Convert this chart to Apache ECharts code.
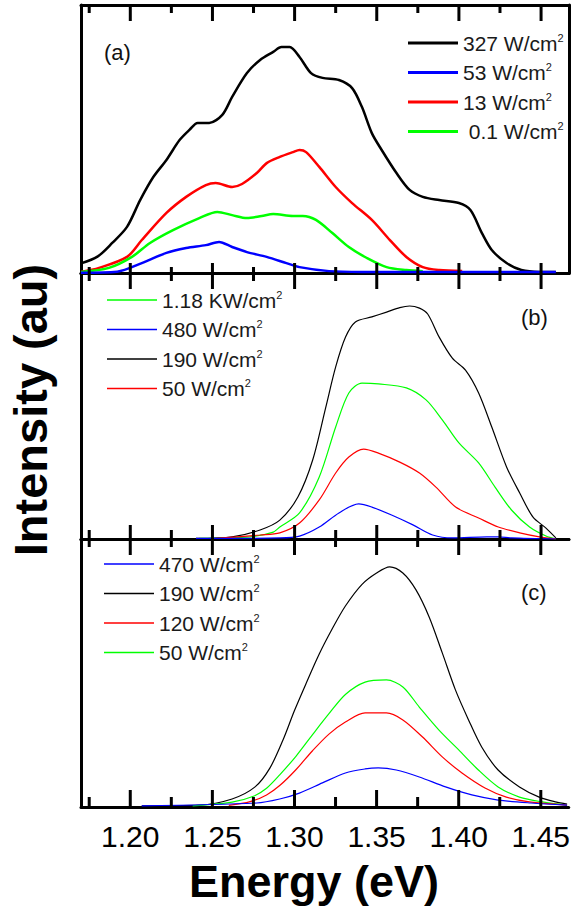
<!DOCTYPE html>
<html><head><meta charset="utf-8">
<script src="https://cdn.jsdelivr.net/npm/echarts@6/dist/echarts.min.js"></script>
<style>html,body{margin:0;padding:0;background:#fff}#c{width:573px;height:908px}</style>
</head><body><div id="c"></div>
<script>
// ---- axis ticks ----
const tickValues = [1.20, 1.25, 1.30, 1.35, 1.40, 1.45];
const tickLabels = ['1.20', '1.25', '1.30', '1.35', '1.40', '1.45'];
const minorTickValues = [1.175, 1.225, 1.275, 1.325, 1.375, 1.425];
const energyRange = [1.17, 1.467];

// ---- panel (a): [energy eV, intensity au] ----
const a327 = [[1.170,0.036],[1.180,0.061],[1.189,0.112],[1.198,0.172],[1.206,0.272],[1.214,0.358],[1.222,0.422],[1.230,0.496],[1.236,0.534],[1.241,0.560],[1.248,0.560],[1.256,0.590],[1.262,0.657],[1.271,0.746],[1.279,0.795],[1.287,0.825],[1.292,0.843],[1.297,0.843],[1.303,0.806],[1.310,0.746],[1.317,0.728],[1.327,0.720],[1.335,0.690],[1.341,0.619],[1.347,0.522],[1.353,0.459],[1.362,0.373],[1.370,0.310],[1.378,0.284],[1.388,0.272],[1.400,0.261],[1.407,0.235],[1.414,0.149],[1.420,0.086],[1.429,0.037],[1.438,0.011],[1.449,0.004],[1.459,0.004]];
const a13 = [[1.170,0.004],[1.181,0.019],[1.198,0.060],[1.207,0.123],[1.222,0.224],[1.234,0.284],[1.246,0.328],[1.252,0.336],[1.262,0.321],[1.268,0.332],[1.277,0.373],[1.283,0.410],[1.291,0.433],[1.299,0.451],[1.303,0.459],[1.307,0.451],[1.315,0.396],[1.325,0.321],[1.335,0.261],[1.347,0.198],[1.358,0.123],[1.368,0.060],[1.378,0.022],[1.388,0.011],[1.402,0.007]];
const a01 = [[1.170,0.004],[1.187,0.019],[1.201,0.060],[1.212,0.112],[1.226,0.160],[1.242,0.205],[1.253,0.228],[1.262,0.216],[1.271,0.205],[1.280,0.213],[1.287,0.220],[1.299,0.213],[1.305,0.213],[1.313,0.198],[1.323,0.149],[1.333,0.097],[1.344,0.056],[1.356,0.022],[1.368,0.011],[1.378,0.007]];
const a53 = [[1.170,0.001],[1.192,0.005],[1.207,0.037],[1.222,0.075],[1.234,0.093],[1.246,0.104],[1.254,0.116],[1.262,0.097],[1.271,0.078],[1.283,0.060],[1.295,0.037],[1.303,0.022],[1.321,0.007],[1.341,0.004],[1.459,0.004]];

// ---- panel (b) ----
const b190 = [[1.240,0.002],[1.262,0.008],[1.279,0.034],[1.291,0.071],[1.302,0.158],[1.311,0.297],[1.319,0.496],[1.325,0.647],[1.331,0.759],[1.337,0.816],[1.347,0.835],[1.356,0.853],[1.364,0.870],[1.370,0.876],[1.376,0.868],[1.381,0.846],[1.388,0.759],[1.396,0.680],[1.404,0.635],[1.412,0.549],[1.420,0.421],[1.429,0.271],[1.437,0.173],[1.445,0.083],[1.453,0.041],[1.459,0.004]];
const b1180 = [[1.242,0.002],[1.273,0.008],[1.287,0.026],[1.291,0.045],[1.303,0.098],[1.315,0.233],[1.325,0.421],[1.333,0.549],[1.341,0.586],[1.351,0.583],[1.368,0.568],[1.380,0.523],[1.390,0.447],[1.400,0.361],[1.412,0.286],[1.422,0.195],[1.432,0.109],[1.443,0.045],[1.453,0.011],[1.459,0.000]];
const b50 = [[1.252,0.002],[1.279,0.015],[1.291,0.023],[1.303,0.060],[1.315,0.147],[1.325,0.248],[1.333,0.308],[1.342,0.338],[1.351,0.323],[1.364,0.289],[1.376,0.248],[1.386,0.195],[1.398,0.120],[1.412,0.079],[1.424,0.045],[1.437,0.023],[1.449,0.008],[1.459,0.000]];
const b480 = [[1.240,0.002],[1.291,0.004],[1.303,0.011],[1.315,0.045],[1.327,0.098],[1.339,0.132],[1.347,0.120],[1.359,0.090],[1.372,0.053],[1.384,0.015],[1.396,0.004],[1.417,0.008],[1.424,0.008],[1.432,0.004],[1.459,0.000]];

// ---- panel (c) ----
const c190 = [[1.207,0.004],[1.242,0.007],[1.262,0.030],[1.276,0.075],[1.285,0.145],[1.293,0.250],[1.300,0.360],[1.307,0.460],[1.315,0.570],[1.323,0.665],[1.331,0.750],[1.341,0.830],[1.350,0.873],[1.358,0.896],[1.366,0.873],[1.374,0.810],[1.382,0.709],[1.390,0.575],[1.398,0.437],[1.406,0.325],[1.414,0.224],[1.424,0.138],[1.437,0.075],[1.449,0.037],[1.459,0.019],[1.466,0.011]];
const c50 = [[1.238,0.004],[1.262,0.018],[1.275,0.040],[1.283,0.070],[1.291,0.120],[1.301,0.190],[1.311,0.270],[1.321,0.348],[1.331,0.420],[1.343,0.466],[1.356,0.474],[1.366,0.448],[1.376,0.373],[1.388,0.287],[1.400,0.213],[1.412,0.138],[1.424,0.075],[1.437,0.037],[1.451,0.019],[1.466,0.007]];
const c120 = [[1.260,0.006],[1.273,0.020],[1.283,0.045],[1.291,0.080],[1.301,0.140],[1.311,0.210],[1.321,0.272],[1.331,0.317],[1.343,0.351],[1.356,0.351],[1.366,0.325],[1.378,0.261],[1.390,0.187],[1.402,0.127],[1.416,0.071],[1.429,0.037],[1.443,0.019],[1.466,0.007]];
const c470 = [[1.207,0.004],[1.277,0.015],[1.291,0.030],[1.303,0.052],[1.317,0.090],[1.331,0.127],[1.343,0.142],[1.351,0.146],[1.362,0.138],[1.376,0.112],[1.392,0.075],[1.408,0.045],[1.424,0.026],[1.444,0.015],[1.466,0.007]];

// ---- legend labels ----
const legendA = [['a327','327 W/cm'],['a53','53 W/cm'],['a13','13 W/cm'],['a01',' 0.1 W/cm']];
const legendB = [['b1180','1.18 KW/cm'],['b480','480 W/cm'],['b190','190 W/cm'],['b50','50 W/cm']];
const legendC = [['c470','470 W/cm'],['c190','190 W/cm'],['c120','120 W/cm'],['c50','50 W/cm']];
const panelLabels = ['(a)', '(b)', '(c)'];

const labelMap = {};
[legendA, legendB, legendC].forEach(l => l.forEach(([k, t]) => labelMap[k] = t));

const FONT = 'Liberation Sans, Arial, sans-serif';
const grids = [
  {left: 81, right: 4, top: 5, height: 268},
  {left: 81, right: 4, top: 273, height: 266},
  {left: 81, right: 4, top: 539, height: 268}
];
// tick lengths [major, minor] per grid
const tickLen = [
  {bottom: [10, 6], top: [16, 8]},
  {bottom: [14, 9], top: [16, 8]},
  {bottom: [17, 10], top: [16, 8]}
];

const xAxes = [];
grids.forEach((g, gi) => {
  ['bottom', 'top'].forEach(pos => {
    xAxes.push({
      type: 'value', gridIndex: gi, position: pos, min: energyRange[0], max: energyRange[1],
      axisLine: {show: true, onZero: false, lineStyle: {color: '#000', width: 3}},
      axisTick: {show: false},
      axisLabel: (gi === 2 && pos === 'bottom') ? {
        show: true, customValues: tickValues, margin: 14, fontSize: 30, fontFamily: FONT, color: '#000',
        formatter: v => tickLabels[tickValues.findIndex(t => Math.abs(t - v) < 1e-6)]
      } : {show: false},
      splitLine: {show: false}
    });
  });
});
const yAxes = grids.map((g, gi) => ({
  type: 'value', gridIndex: gi, min: 0, max: 1, position: 'left',
  axisLine: {show: true, onZero: false, lineStyle: {color: '#000', width: 3}},
  axisTick: {show: false}, axisLabel: {show: false}, splitLine: {show: false}
}));
yAxes.push({
  type: 'value', gridIndex: 0, min: 0, max: 1, position: 'right',
  axisLine: {show: true, onZero: false, lineStyle: {color: '#000', width: 3}},
  axisTick: {show: false}, axisLabel: {show: false}, splitLine: {show: false}
});

function line(name, data, gi, color, width) {
  return {
    name, type: 'line', data, xAxisIndex: gi * 2, yAxisIndex: gi,
    symbol: 'none', showSymbol: false, smooth: 0.3,
    lineStyle: {color, width}, itemStyle: {color}, z: 3
  };
}
// tick marks drawn through the axis scale (value -> pixel via api.coord)
function tickSeries(gi) {
  const data = tickValues.map(v => [v, 1]).concat(minorTickValues.map(v => [v, 0]));
  return {
    type: 'custom', xAxisIndex: gi * 2, yAxisIndex: gi, data, silent: true, z: 5, clip: false,
    encode: {x: 0},
    renderItem: (params, api) => {
      const v = api.value(0), major = api.value(1) === 1;
      const pb = api.coord([v, 0]), pt = api.coord([v, 1]);
      const lb = tickLen[gi].bottom[major ? 0 : 1], lt = tickLen[gi].top[major ? 0 : 1];
      const st = {stroke: '#000', lineWidth: 3};
      return {type: 'group', children: [
        {type: 'line', shape: {x1: pb[0], y1: pb[1], x2: pb[0], y2: pb[1] - lb}, style: st},
        {type: 'line', shape: {x1: pt[0], y1: pt[1], x2: pt[0], y2: pt[1] + lt}, style: st}
      ]};
    }
  };
}
const series = [
  line('a327', a327, 0, '#000000', 2.5),
  line('a13', a13, 0, '#ff0000', 2.5),
  line('a01', a01, 0, '#00ff00', 2.5),
  line('a53', a53, 0, '#0000ff', 2.5),
  line('b190', b190, 1, '#000000', 1.2),
  line('b1180', b1180, 1, '#00ff00', 1.2),
  line('b50', b50, 1, '#ff0000', 1.2),
  line('b480', b480, 1, '#0000ff', 1.2),
  line('c190', c190, 2, '#000000', 1.2),
  line('c50', c50, 2, '#00ff00', 1.2),
  line('c120', c120, 2, '#ff0000', 1.2),
  line('c470', c470, 2, '#0000ff', 1.2),
  tickSeries(0), tickSeries(1), tickSeries(2)
];

function mkLegend(list, left, top, iconH) {
  return {
    orient: 'vertical', left, top, itemWidth: 50, itemHeight: iconH, itemGap: 8,
    icon: 'rect', selectedMode: false, data: list.map(l => l[0]),
    formatter: n => '{t|' + labelMap[n] + '}{s|2}',
    textStyle: {
      color: '#1a1a1a', fontFamily: FONT, fontSize: 21,
      rich: {
        t: {fontSize: 21, fontFamily: FONT, color: '#1a1a1a', lineHeight: 22},
        s: {fontSize: 11, fontFamily: FONT, color: '#1a1a1a', verticalAlign: 'top', lineHeight: 22}
      }
    }
  };
}

const chart = echarts.init(document.getElementById('c'), null, {renderer: 'svg'});
chart.setOption({
  animation: false,
  backgroundColor: '#fff',
  grid: grids,
  xAxis: xAxes,
  yAxis: yAxes,
  series,
  legend: [mkLegend(legendA, 403, 27, 3), mkLegend(legendB, 102, 284, 1.5), mkLegend(legendC, 99, 548, 1.5)],
  graphic: [
    {type: 'text', x: 104, y: 52, style: {text: panelLabels[0], font: '22px ' + FONT, fill: '#111', verticalAlign: 'middle'}},
    {type: 'text', x: 521, y: 317, style: {text: panelLabels[1], font: '22px ' + FONT, fill: '#111', verticalAlign: 'middle'}},
    {type: 'text', x: 521, y: 592, style: {text: panelLabels[2], font: '22px ' + FONT, fill: '#111', verticalAlign: 'middle'}},
    {type: 'text', x: 30, y: 410, rotation: Math.PI / 2, style: {text: 'Intensity (au)', font: 'bold 47px ' + FONT, fill: '#000', align: 'center', verticalAlign: 'middle'}},
    {type: 'text', x: 314, y: 881, style: {text: 'Energy (eV)', font: 'bold 45px ' + FONT, fill: '#000', align: 'center', verticalAlign: 'middle'}}
  ]
});
</script></body></html>
